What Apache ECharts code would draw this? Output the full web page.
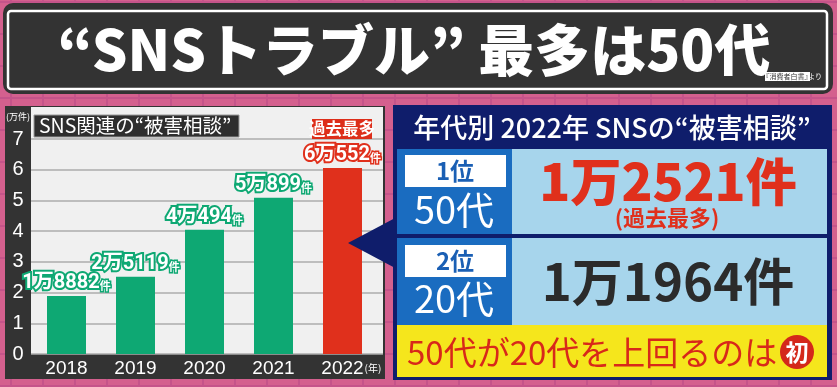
<!DOCTYPE html>
<html><head><meta charset="utf-8">
<script src="https://cdn.jsdelivr.net/npm/echarts@6/dist/echarts.min.js"></script>
<style>html,body{margin:0;padding:0;background:#d4608e}#c{width:837px;height:387px}</style>
</head><body><div id="c"></div>
<script>
// ---- data ----
const years = ['2018', '2019', '2020', '2021', '2022'];
const counts = [18882, 25119, 40494, 50899, 60552];          // 件
const yTicks = [0, 1, 2, 3, 4, 5, 6, 7];                       // 万件
const yUnit = '(万件)';
const xUnit = '(年)';
const titleText = '“SNSトラブル” 最多は50代';
const sourceText = '『消費者白書』';
const chartTitle = 'SNS関連の“被害相談”';
const recordTag = '過去最多';
const panelTitle = '年代別 2022年 SNSの“被害相談”';
const ranks = ['1位', '2位'];
const ageGroups = ['50代', '20代'];
const ageCounts = ['1万2521件', '1万1964件'];
const ageNote = '(過去最多)';
const footText = '50代が20代を上回るのは';
const footMark = '初';

// ---- derived ----
const values = counts.map(c => c / 10000);
const labelOf = c => Math.floor(c / 10000) + '万' + (c % 10000);
const GREEN = '#0ea873', RED = '#e0301c', NAVY = '#0f1d6b';

function tile() {
  const c = document.createElement('canvas'); c.width = 32; c.height = 32;
  const g = c.getContext('2d');
  g.fillStyle = '#d4608e'; g.fillRect(0, 0, 32, 32);
  g.fillStyle = '#c5548a'; g.fillRect(10, 0, 2, 32); g.fillRect(0, 1, 32, 2);
  return c;
}

function txt(text, x, y, size, color, weight, align, extra) {
  return Object.assign({
    type: 'text', z: 20,
    style: {
      text: text, x: x, y: y, fill: color, fontSize: size,
      fontWeight: weight || 'normal',
      fontFamily: '"Noto Sans CJK JP", sans-serif',
      align: align || 'center', verticalAlign: 'middle',
      textAlign: align || 'center', textVerticalAlign: 'middle'
    }
  }, extra || {});
}
function rect(x, y, w, h, fill, z, r, extra) {
  return Object.assign({ type: 'rect', z: z, shape: { x: x, y: y, width: w, height: h, r: r || 0 }, style: { fill: fill } }, extra || {});
}

const chart = echarts.init(document.getElementById('c'), null, { renderer: 'canvas' });

const graphics = [
  // title bar
  rect(3, 3, 830, 91, '#333333', -10, 10),
  { type: 'rect', z: -9, shape: { x: 8, y: 11, width: 819, height: 78, r: 3 }, style: { fill: 'none', stroke: '#ffffff', lineWidth: 2.5 } },
  txt(titleText, 414, 50, 56, '#ffffff', 900),
  rect(765, 72, 45, 9, '#ffffff', 15),
  txt(sourceText, 787, 76.5, 7, '#333', 'normal'),
  txt('より', 815, 76.5, 7, '#ffffff', 'normal'),
  // left panel
  rect(5, 106, 380, 273, '#333333', -10),
  rect(31, 107, 352, 247, '#f0f0f0', -9),
  txt(yUnit, 18, 117, 9, '#ffffff', 'normal'),
  { type: 'rect', z: 15, shape: { x: 34, y: 115, width: 205, height: 22 }, style: { fill: '#2e2e2e', stroke: '#9a9a9a', lineWidth: 1 } },
  txt(chartTitle, 39, 126, 19.5, '#ffffff', 'normal', 'left'),
  rect(312, 119, 60, 20, '#dd2e1a', 15),
  txt(recordTag, 342, 129, 16.5, '#ffffff', 'bold'),
  txt(xUnit, 373, 368, 10, '#ffffff', 'normal'),
  // right panel
  rect(393, 105, 439, 275, NAVY, -10),
  txt(panelTitle, 612, 128, 27, '#ffffff', 500),
  rect(397, 149, 115, 85, '#1a6cc0', -8),
  rect(512, 149, 315, 85, '#a7d5ec', -8),
  rect(397, 238, 115, 87, '#1a6cc0', -8),
  rect(512, 238, 315, 87, '#a7d5ec', -8),
  rect(397, 325, 430, 52, '#f5e61c', -8),
  rect(405, 155, 101, 32, '#ffffff', -7),
  rect(405, 245, 101, 32, '#ffffff', -7),
  txt(ranks[0], 455, 171, 24, '#1a5fb4', 'bold'),
  txt(ranks[1], 455, 261, 24, '#1a5fb4', 'bold'),
  txt(ageGroups[0], 454, 210, 38, '#ffffff', 'normal'),
  txt(ageGroups[1], 454, 299, 38, '#ffffff', 'normal'),
  txt(ageCounts[0], 668, 182, 51, '#e0301c', 900),
  txt(ageNote, 667, 218, 22, '#e0301c', 'bold'),
  txt(ageCounts[1], 668, 282, 51, '#2b2b2b', 'bold'),
  txt(footText, 407, 352, 33, '#d8281a', 'normal', 'left'),
  { type: 'circle', z: 18, shape: { cx: 797, cy: 352, r: 17 }, style: { fill: '#d4281a' } },
  txt(footMark, 797, 352, 23, '#ffffff', 'bold'),
  // arrow
  { type: 'polygon', z: 18, shape: { points: [[348, 243], [397, 217], [397, 269]] }, style: { fill: NAVY } }
];

const labelRich = (color) => ({
  n: { fontSize: 20, fontWeight: 'bold', color: '#fff', fontFamily: '"Liberation Sans Narrow","Roboto","Noto Sans CJK JP",sans-serif', textBorderColor: color, textBorderWidth: 4 },
  u: { fontSize: 11, fontWeight: 'bold', color: '#fff', fontFamily: '"Noto Sans CJK JP",sans-serif', textBorderColor: color, textBorderWidth: 3, padding: [6, 0, 0, 0] }
});

chart.setOption({
  animation: false,
  backgroundColor: { image: tile(), repeat: 'repeat' },
  grid: [
    { left: 31, right: 837 - 383, top: 139, bottom: 387 - 354 },
    { left: 32, right: 837 - 377, top: 139, bottom: 387 - 354 }
  ],
  xAxis: [
    { gridIndex: 0, type: 'category', data: years, show: false },
    { gridIndex: 1, type: 'category', data: years,
      axisLine: { show: false }, axisTick: { show: false },
      axisLabel: { color: '#ffffff', fontSize: 19, margin: 5, fontFamily: '"Liberation Sans", Arial, sans-serif' } }
  ],
  yAxis: [
    { gridIndex: 0, type: 'value', min: yTicks[0], max: yTicks[yTicks.length - 1], interval: 1,
      axisLine: { show: false }, axisTick: { show: false },
      splitLine: { lineStyle: { color: '#acacac', width: 1.5 } },
      axisLabel: { color: '#ffffff', fontSize: 20, margin: 13, align: 'center', fontFamily: '"Liberation Sans", Arial, sans-serif' } },
    { gridIndex: 1, type: 'value', min: yTicks[0], max: yTicks[yTicks.length - 1], interval: 1, show: false, splitLine: { show: false } }
  ],
  series: [{
    type: 'bar', xAxisIndex: 1, yAxisIndex: 1, barWidth: 39,
    data: values.map((v, i) => ({
      value: v,
      itemStyle: { color: i === values.length - 1 ? RED : GREEN },
      label: { rich: labelRich(i === values.length - 1 ? RED : GREEN) }
    })),
    label: {
      show: true, position: 'top', distance: 3,
      formatter: p => '{n|' + labelOf(counts[p.dataIndex]) + '}{u|件}'
    }
  }],
  graphic: { elements: graphics }
});
</script>
</body></html>
